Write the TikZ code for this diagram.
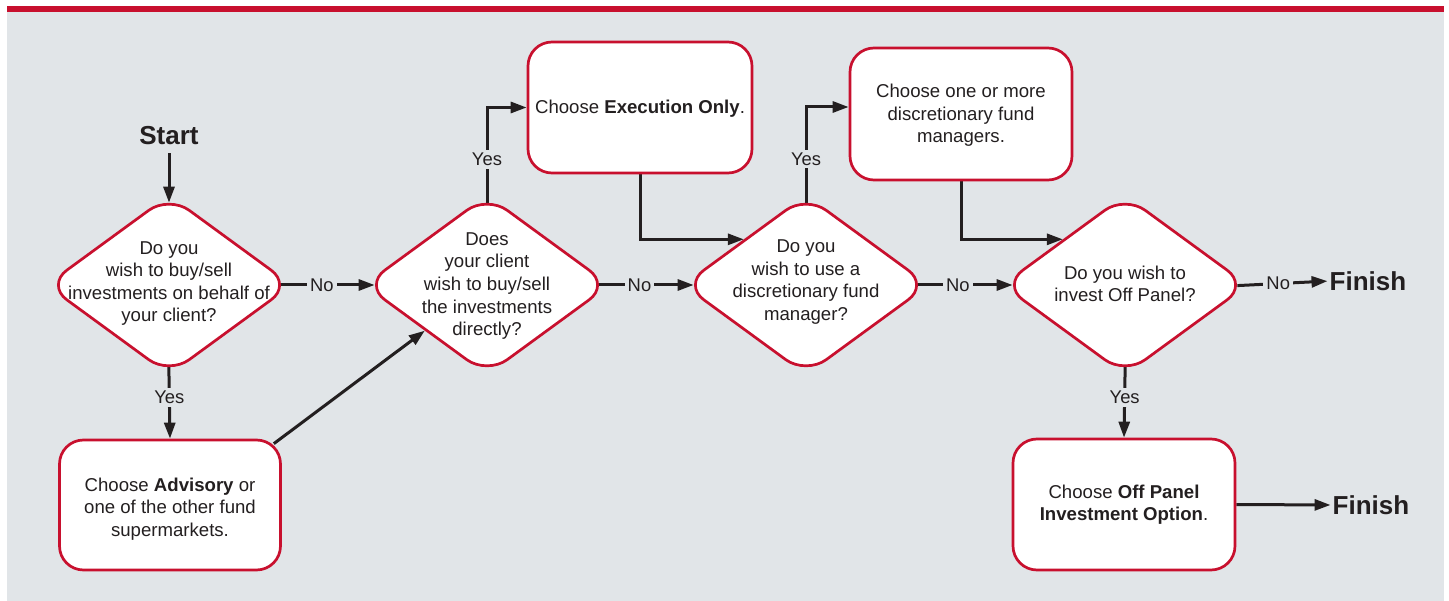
\documentclass[tikz,border=0pt]{standalone}
\usepackage{fontspec}
\setmainfont{Liberation Sans}
\usetikzlibrary{shapes.geometric,arrows.meta,calc}
\definecolor{brand}{HTML}{C8102E}
\definecolor{panel}{HTML}{E1E5E8}
\definecolor{ink}{HTML}{231F20}
\pgfdeclarelayer{bg}
\pgfdeclarelayer{links}
\pgfsetlayers{bg,links,main}
\begin{document}
\begin{tikzpicture}[x=1pt,y=-1pt,
  dec/.style={diamond, draw=brand, fill=white, line width=2.7pt, minimum width=246pt, minimum height=180pt, inner sep=0pt, rounded corners=25pt},
  box/.style={rectangle, draw=brand, fill=white, line width=2.7pt, minimum width=222pt, minimum height=131pt, rounded corners=24pt, inner sep=0pt},
  txt/.style={text=ink, font=\fontsize{18.6}{22.6}\selectfont, align=center, inner sep=0pt},
  lbl/.style={text=ink, font=\fontsize{18.4}{22}\selectfont, fill=panel, inner sep=3pt},
  big/.style={text=ink, font=\fontsize{26}{30}\selectfont\bfseries, inner sep=0pt},
  link/.style={draw=ink, line width=3pt},
  arr/.style={link, -{Triangle[length=16pt,width=11pt]}},
]
\useasboundingbox (0,0) rectangle (1449,601);
\begin{pgfonlayer}{bg}
\fill[white] (0,0) rectangle (1449,601);
\fill[panel] (7,12) rectangle (1444,601);
\fill[brand] (7,6) rectangle (1444,12);
\end{pgfonlayer}

\node[big] (start) at (169,136) {Start};
\node[big] (fin1) at (1368,281) {Finish};
\node[big] (fin2) at (1371,505) {Finish};

\node[dec] (d1) at (169,285) {};
\node[dec] (d2) at (487,285) {};
\node[dec] (d3) at (806,285) {};
\node[dec] (d4) at (1125,285) {};

\node[txt] (t1) at (169,283.5) {Do you\\wish to buy/sell\\investments on behalf of\\your client?};
\node[txt] (t2) at (487,286) {Does\\your client\\wish to buy/sell\\the investments\\directly?};
\node[txt] (t3) at (806,282) {Do you\\wish to use a\\discretionary fund\\manager?};
\node[txt] (t4) at (1125,284) {Do you wish to\\invest Off Panel?};

\node[box, minimum width=224pt] (exec) at (640,107.5) {};
\node[txt] at (640,109) {Choose \textbf{Execution Only}.};
\node[box, minimum height=132pt] (dfm) at (961,114) {};
\node[txt] at (961,115.5) {Choose one or more\\discretionary fund\\managers.};
\node[box, minimum width=221pt, minimum height=130pt] (adv) at (170,505) {};
\node[txt] at (170,509) {Choose \textbf{Advisory} or\\one of the other fund\\supermarkets.};
\node[box] (off) at (1124,504.5) {};
\node[txt] at (1124,504.5) {Choose \textbf{Off Panel}\\\textbf{Investment Option}.};

\begin{pgfonlayer}{links}
\draw[arr, shorten <=8pt, shorten >=-9pt] (start.south) -- (d1.north);
\draw[arr, shorten <=-12pt, shorten >=-12pt] (d1.east) -- node[lbl, pos=0.41] {No} (d2.west);
\draw[arr, shorten <=-12pt, shorten >=-12pt] (d2.east) -- node[lbl, pos=0.4] {No} (d3.west);
\draw[arr, shorten <=-12pt, shorten >=-12pt] (d3.east) -- node[lbl, pos=0.39] {No} (d4.west);
\draw[arr, shorten <=-12pt, shorten >=2pt] (d4.east) -- node[lbl, pos=0.36] {No} (fin1.west);
\draw[arr, shorten <=-10pt] (d1.south) -- node[lbl, pos=0.34] {Yes} (adv.north);
\draw[arr, shorten <=-10pt] (d4.south) -- node[lbl, pos=0.34] {Yes} (off.north);
\draw[arr, shorten <=-10pt] (d2.north) |- node[lbl, pos=0.2] {Yes} (exec.west);
\draw[arr, shorten <=-10pt] (d3.north) |- node[lbl, pos=0.2] {Yes} ([yshift=7pt]dfm.west);
\draw[arr] (exec.south) |- (d3.north west);
\draw[arr] (dfm.south) |- (d4.north west);
\draw[arr] ([xshift=-8pt,yshift=-5pt]adv.north east) -- (d2.south west);
\draw[arr, shorten >=2pt] (off.east) -- (fin2.west);
\end{pgfonlayer}
\end{tikzpicture}
\end{document}
